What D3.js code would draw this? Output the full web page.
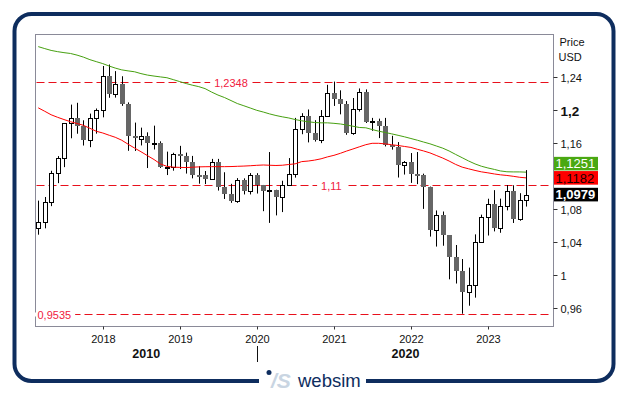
<!DOCTYPE html>
<html lang="de">
<head>
    <meta charset="UTF-8">
    <title>EUR/USD monthly</title>
    <script src="https://d3js.org/d3.v7.min.js"></script>
    <style>
        body { margin: 0; background: #fff; }
        text { font-family: "Liberation Sans", Arial, sans-serif; }
    </style>
</head>
<body>

<svg id="main" width="627" height="394"></svg>
<script>

    // monthly candles, Mar 2017 - Jul 2023
    const firstMonth = new Date(Date.UTC(2017, 2, 1));
    const opens = [1.0575,1.0652,1.0895,1.1244,1.1426,1.1843,1.1908,1.1813,1.1646,1.1904,
        1.2005,1.2414,1.2194,1.2324,1.2075,1.1693,1.1655,1.1690,1.1601,1.1605,1.1312,1.1318,
        1.1467,1.1448,1.1372,1.1217,1.1214,1.1170,1.1373,1.1076,1.0989,1.0899,1.1153,1.1017,
        1.1213,1.1094,1.1026,1.1031,1.0954,1.1099,1.1234,1.1778,1.1936,1.1721,1.1647,1.1927,
        1.2216,1.2136,1.2075,1.1728,1.2020,1.2227,1.1858,1.1870,1.1809,1.1579,1.1558,1.1338,
        1.1370,1.1234,1.1218,1.1067,1.0545,1.0733,1.0484,1.0220,1.0054,0.9802,0.9884,1.0405,
        1.0705,1.0863,1.0576,1.0839,1.1018,1.0689,1.0909];
    const highs = [1.0906,1.0950,1.1268,1.1446,1.1846,1.2070,1.2092,1.1880,1.1961,1.2023,
        1.2538,1.2556,1.2476,1.2414,1.2097,1.1852,1.1791,1.1734,1.1815,1.1625,1.1500,1.1486,
        1.1570,1.1488,1.1448,1.1324,1.1265,1.1412,1.1412,1.1250,1.1110,1.1179,1.1176,1.1240,
        1.1239,1.1096,1.1495,1.1038,1.1147,1.1422,1.1909,1.1966,1.2011,1.1881,1.2004,1.2310,
        1.2349,1.2243,1.2113,1.2150,1.2266,1.2254,1.1909,1.1900,1.1909,1.1692,1.1616,1.1386,
        1.1483,1.1495,1.1233,1.1076,1.0787,1.0774,1.0486,1.0368,1.0198,1.0094,1.0497,1.0736,
        1.0929,1.1033,1.0930,1.1095,1.1092,1.0996,1.1276];
    const lows = [1.0493,1.0570,1.0839,1.1118,1.1312,1.1662,1.1717,1.1574,1.1554,1.1718,
        1.1916,1.2153,1.2155,1.2055,1.1510,1.1508,1.1575,1.1301,1.1526,1.1302,1.1216,1.1269,
        1.1289,1.1234,1.1176,1.1111,1.1107,1.1168,1.1028,1.0926,1.0879,1.0879,1.0981,1.0981,
        1.0992,1.0778,1.0636,1.0727,1.0767,1.1090,1.1185,1.1711,1.1612,1.1622,1.1603,1.1924,
        1.2054,1.1952,1.1704,1.1704,1.1986,1.1847,1.1752,1.1664,1.1563,1.1524,1.1186,1.1222,
        1.1121,1.1106,1.0806,1.0470,1.0349,1.0359,0.9952,0.9901,0.9535,0.9632,0.9730,1.0393,
        1.0483,1.0533,1.0516,1.0788,1.0635,1.0662,1.0834];
    const closes = [1.0652,1.0895,1.1244,1.1426,1.1843,1.1908,1.1813,1.1646,1.1904,1.2005,
        1.2414,1.2194,1.2324,1.2075,1.1693,1.1684,1.1690,1.1601,1.1605,1.1312,1.1318,1.1467,
        1.1448,1.1372,1.1217,1.1214,1.1170,1.1373,1.1076,1.0989,1.0899,1.1153,1.1017,1.1213,
        1.1094,1.1026,1.1031,1.0954,1.1099,1.1234,1.1778,1.1936,1.1721,1.1647,1.1927,1.2216,
        1.2136,1.2075,1.1728,1.2020,1.2227,1.1858,1.1870,1.1809,1.1579,1.1558,1.1338,1.1370,
        1.1234,1.1218,1.1067,1.0545,1.0733,1.0484,1.0220,1.0054,0.9802,0.9884,1.0405,1.0705,
        1.0863,1.0576,1.0839,1.1018,1.0689,1.0909,1.0979];

    // moving averages (green = long, red = short)
    const maLong = [1.2773,1.2749,1.2727,1.2712,1.2700,1.2690,1.2670,1.2646,1.2615,1.2591,
        1.2567,1.2537,1.2513,1.2491,1.2479,1.2468,1.2446,1.2428,1.2416,1.2406,
        1.2396,1.2373,1.2349,1.2325,1.2306,1.2288,1.2264,1.2222,1.2186,1.2156,
        1.2119,1.2083,1.2056,1.2029,1.2001,1.1980,1.1958,1.1938,1.1922,1.1908,
        1.1889,1.1874,1.1862,1.1853,1.1849,1.1849,1.1843,1.1835,1.1823,1.1808,
        1.1793,1.1789,1.1768,1.1748,1.1732,1.1716,1.1698,1.1680,1.1659,1.1638,
        1.1617,1.1595,1.1569,1.1542,1.1508,1.1466,1.1426,1.1387,1.1351,1.1323,
        1.1302,1.1284,1.1266,1.1256,1.1254,1.1254,1.1251];
    const maShort = [1.2031,1.1989,1.1947,1.1916,1.1889,1.1863,1.1841,1.1819,1.1783,1.1747,
        1.1726,1.1698,1.1674,1.1638,1.1590,1.1543,1.1499,1.1451,1.1404,1.1351,
        1.1321,1.1312,1.1309,1.1307,1.1311,1.1315,1.1317,1.1318,1.1318,1.1318,
        1.1319,1.1322,1.1325,1.1329,1.1334,1.1338,1.1335,1.1332,1.1335,1.1344,
        1.1352,1.1379,1.1386,1.1397,1.1413,1.1436,1.1455,1.1480,1.1506,1.1532,
        1.1558,1.1584,1.1601,1.1601,1.1594,1.1584,1.1574,1.1563,1.1551,1.1528,
        1.1509,1.1485,1.1454,1.1422,1.1386,1.1345,1.1312,1.1292,1.1272,1.1255,
        1.1243,1.1229,1.1219,1.1211,1.1201,1.1189,1.1182];

    // horizontal levels
    const levels = [1.2348, 1.11, 0.9535];
    const levelLabelDates = [new Date(Date.UTC(2019, 8, 1)), new Date(Date.UTC(2020, 11, 20)), null];

    // 1,12 sits behind the value boxes, so it is not listed
    const yTicks = [0.96, 1, 1.04, 1.08, 1.16, 1.2, 1.24];
    const boldTicks = [1.2];
    const yearTicks = [2018, 2019, 2020, 2021, 2022, 2023];
    const decades = [{label: '2010', from: 2017.13, to: 2020}, {label: '2020', from: 2020, to: 2023.86}];

    const navy = '#0e2d5e';
    const plotL = 35.5, plotR = 553.5, plotT = 34.5, plotB = 326.5;

    const de = d3.formatLocale({decimal: ',', thousands: '.', grouping: [3], currency: ['', ' €']});
    const fmtTick = de.format('.2~f');
    const fmtLevel = de.format('.4~f');
    const fmt4 = de.format('.4f');

    const candles = opens.map(function(o, i) {
        return {date: d3.utcMonth.offset(firstMonth, i), o: o, h: highs[i], l: lows[i], c: closes[i]};
    });

    const x = d3.scaleUtc()
        .domain([new Date(Date.UTC(2017, 1, 16)), new Date(Date.UTC(2023, 10, 8))])
        .range([plotL, plotR]);
    const y = d3.scaleLinear().domain([0.938, 1.292]).range([plotB, plotT]);

    const svg = d3.select('svg#main');

    // outer rounded frame with a gap for the logo
    const fl = 14.5, fr = 613.5, ft = 14, fb = 381, r = 17;
    svg.append('path')
        .attr('d', 'M366,' + fb + ' H' + (fr - r) + ' A' + r + ',' + r + ' 0 0 0 ' + fr + ',' + (fb - r) +
            ' V' + (ft + r) + ' A' + r + ',' + r + ' 0 0 0 ' + (fr - r) + ',' + ft +
            ' H' + (fl + r) + ' A' + r + ',' + r + ' 0 0 0 ' + fl + ',' + (ft + r) +
            ' V' + (fb - r) + ' A' + r + ',' + r + ' 0 0 0 ' + (fl + r) + ',' + fb + ' H259')
        .attr('fill', 'none')
        .attr('stroke', navy)
        .attr('stroke-width', 4);

    // logo
    svg.append('circle').attr('cx', 269).attr('cy', 372.5).attr('r', 2.5).attr('fill', navy);
    svg.append('text').attr('x', 271).attr('y', 388)
        .style('font-size', '21px').style('font-weight', 'bold').style('font-style', 'italic')
        .attr('fill', '#c9d5e2').text('/S');
    svg.append('text').attr('x', 298).attr('y', 386.5)
        .style('font-size', '18.5px').attr('fill', navy).text('websim');

    // plot frame
    svg.append('rect')
        .attr('x', plotL).attr('y', plotT).attr('width', plotR - plotL).attr('height', plotB - plotT)
        .attr('fill', 'none').attr('stroke', '#8a8a98').attr('stroke-width', 1);

    // dashed levels
    const levelG = svg.append('g');
    levels.forEach(function(v, i) {
        const ly = Math.round(y(v)) + 0.5;
        levelG.append('line')
            .attr('x1', plotL + 1).attr('x2', plotR - 1).attr('y1', ly).attr('y2', ly)
            .attr('stroke', '#e8101c').attr('stroke-width', 1.2).attr('stroke-dasharray', '8,4');
        const d = levelLabelDates[i];
        const t = levelG.append('text')
            .attr('y', ly + 4)
            .style('font-size', '11px')
            .attr('fill', '#f02040')
            .text(fmtLevel(v));
        if (d) {
            t.attr('x', x(d)).attr('text-anchor', 'middle');
        } else {
            t.attr('x', plotL + 2);
        }
        const bb = t.node().getBBox();
        levelG.insert('rect', function() { return t.node(); })
            .attr('x', bb.x - 4).attr('y', ly - 2).attr('width', bb.width + 8).attr('height', 4)
            .attr('fill', '#fff');
    });

    // candles
    const cg = svg.append('g');
    candles.forEach(function(d) {
        const cx = Math.round(x(d.date));
        const up = d.c >= d.o;
        cg.append('line')
            .attr('x1', cx + 0.5).attr('x2', cx + 0.5)
            .attr('y1', y(d.h)).attr('y2', y(d.l))
            .attr('stroke', '#000').attr('stroke-width', 1);
        const yt = Math.round(y(Math.max(d.o, d.c)));
        const yb = Math.round(y(Math.min(d.o, d.c)));
        if (up) {
            cg.append('rect')
                .attr('x', cx - 1.5).attr('y', yt + 0.5)
                .attr('width', 4).attr('height', Math.max(yb - yt, 1))
                .attr('fill', '#fff').attr('stroke', '#000').attr('stroke-width', 1);
        } else {
            cg.append('rect')
                .attr('x', cx - 2).attr('y', yt)
                .attr('width', 5).attr('height', Math.max(yb - yt, 2))
                .attr('fill', '#666666');
        }
    });

    // moving averages
    const line = d3.line()
        .x(function(d, i) { return x(candles[i].date); })
        .y(function(d) { return y(d); });
    svg.append('path').datum(maLong)
        .attr('d', line).attr('fill', 'none').attr('stroke', '#46a010').attr('stroke-width', 1);
    svg.append('path').datum(maShort)
        .attr('d', line).attr('fill', 'none').attr('stroke', '#ff0000').attr('stroke-width', 1);

    // right axis
    const ax = svg.append('g');
    yTicks.forEach(function(v) {
        const ty = Math.round(y(v)) + 0.5;
        ax.append('line').attr('x1', plotR).attr('x2', plotR + 4).attr('y1', ty).attr('y2', ty)
            .attr('stroke', '#333');
        const bold = boldTicks.indexOf(v) >= 0;
        ax.append('text')
            .attr('x', plotR + 7).attr('y', ty + (bold ? 5 : 4))
            .style('font-size', bold ? '13.5px' : '11px')
            .style('font-weight', bold ? 'bold' : 'normal')
            .attr('fill', '#111')
            .text(fmtTick(v));
    });
    ax.append('text').attr('x', plotR + 6).attr('y', 46).style('font-size', '11px').attr('fill', '#111').text('Price');
    ax.append('text').attr('x', plotR + 5).attr('y', 61).style('font-size', '11px').attr('fill', '#111').text('USD');

    // last value boxes
    const boxH = 13.6, boxW = 44;
    const redC = y(maShort[maShort.length - 1]);
    const boxes = [
        {v: maShort[maShort.length - 1], c: redC, fill: '#ff0000', color: '#200000', bold: false},
        {v: maLong[maLong.length - 1], c: Math.min(y(maLong[maLong.length - 1]), redC - boxH - 0.6), fill: '#4aa812', color: '#fff', bold: false},
        {v: closes[closes.length - 1], c: y(closes[closes.length - 1]), fill: '#000', color: '#fff', bold: true}
    ];
    boxes.forEach(function(b) {
        ax.append('rect').attr('x', plotR + 0.5).attr('y', b.c - boxH / 2)
            .attr('width', boxW).attr('height', boxH).attr('fill', b.fill);
        ax.append('text').attr('x', plotR + 2).attr('y', b.c + 4.8)
            .style('font-size', '13px').style('font-weight', b.bold ? 'bold' : 'normal')
            .attr('fill', b.color).text(fmt4(b.v));
    });

    // x axis
    yearTicks.forEach(function(yr) {
        const tx = Math.round(x(new Date(Date.UTC(yr, 0, 1)))) + 0.5;
        svg.append('line').attr('x1', tx).attr('x2', tx).attr('y1', plotB).attr('y2', plotB + 3)
            .attr('stroke', '#333');
        svg.append('text').attr('x', tx).attr('y', 342.5).attr('text-anchor', 'middle')
            .style('font-size', '11px').attr('fill', '#111').text(yr);
    });
    const yearX = function(f) {
        const yr = Math.floor(f);
        return x(new Date(Date.UTC(yr, 0, 1) + (f - yr) * 365.25 * 864e5));
    };
    decades.forEach(function(d) {
        svg.append('text').attr('x', (yearX(d.from) + yearX(d.to)) / 2).attr('y', 357.5)
            .attr('text-anchor', 'middle').style('font-size', '12.5px').style('font-weight', 'bold')
            .attr('fill', '#111').text(d.label);
    });
    const decadeX = Math.round(yearX(2020)) + 0.5;
    svg.append('line').attr('x1', decadeX).attr('x2', decadeX).attr('y1', 346).attr('y2', 362)
        .attr('stroke', '#111');

</script>
</body>
</html>
